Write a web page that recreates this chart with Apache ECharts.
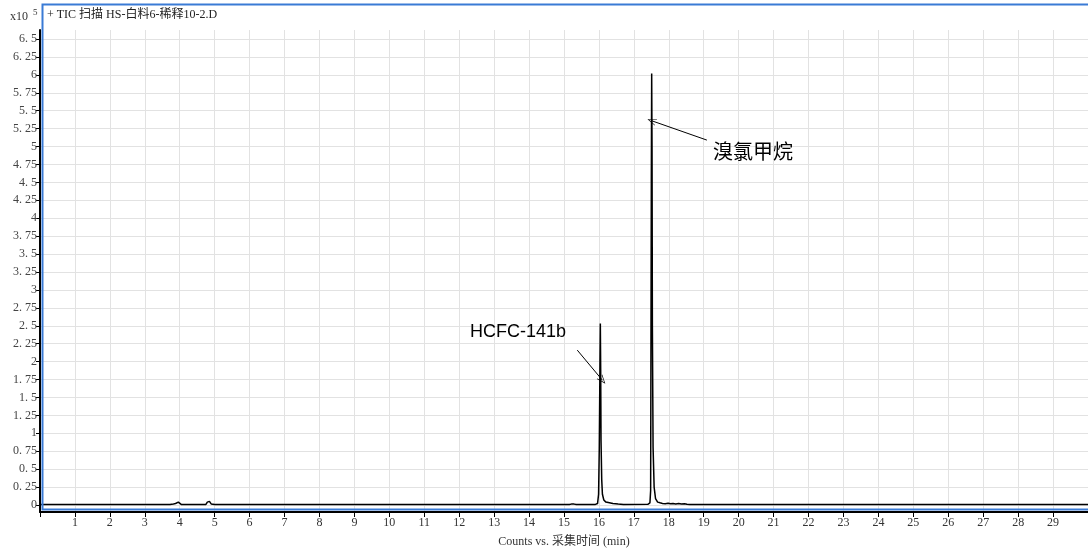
<!DOCTYPE html>
<html>
<head>
<meta charset="utf-8">
<script src="https://cdn.jsdelivr.net/npm/echarts@6/dist/echarts.min.js"></script>
<style>
html, body { margin: 0; padding: 0; background: #fff; }
#chart { width: 1088px; height: 549px; }
</style>
</head>
<body>
<div id="chart"></div>
<script>
'use strict';

var titleText = '+ TIC 扫描 HS-白料6-稀释10-2.D';
var xName = 'Counts vs. 采集时间 (min)';
var peakNames = ['HCFC-141b', '溴氯甲烷'];

// y tick values (x10^5 counts)
var yTicks = [0, 0.25, 0.5, 0.75, 1, 1.25, 1.5, 1.75, 2, 2.25, 2.5, 2.75, 3, 3.25,
    3.5, 3.75, 4, 4.25, 4.5, 4.75, 5, 5.25, 5.5, 5.75, 6, 6.25, 6.5];

// chromatogram (min, x10^5 counts)
var times = [0, 3.5, 3.72, 3.77, 3.82, 3.88, 3.93, 3.96, 4.0, 4.05,
    4.45, 4.5, 4.55, 4.75, 4.79, 4.82, 4.85, 4.9, 5.0,
    15.15, 15.21, 15.25, 15.29, 15.35,
    15.9, 15.96, 15.99, 16.01, 16.03, 16.04, 16.05, 16.06, 16.08, 16.1, 16.14, 16.2, 16.3, 16.4, 16.55, 16.7,
    17.4, 17.46, 17.48, 17.5, 17.51, 17.52, 17.53, 17.55, 17.58, 17.62, 17.68,
    17.75, 17.82, 17.9, 17.98, 18.05, 18.12, 18.2, 18.28, 18.36, 18.45, 18.52, 18.6, 30];
var counts = [0.006, 0.006, 0.008, 0.03, 0.015, 0.02, 0.03, 0.04, 0.02, 0.006,
    0.006, 0.016, 0.006, 0.008, 0.04, 0.065, 0.05, 0.015, 0.006,
    0.006, 0.012, 0.032, 0.012, 0.006,
    0.008, 0.02, 0.15, 0.8, 2.0, 2.53, 1.9, 0.9, 0.35, 0.15, 0.07, 0.04, 0.03, 0.02, 0.012, 0.008,
    0.01, 0.03, 0.2, 4.5, 6.02, 5.0, 2.5, 0.8, 0.25, 0.09, 0.04,
    0.03, 0.022, 0.018, 0.024, 0.016, 0.022, 0.015, 0.02, 0.014, 0.018, 0.01, 0.006, 0.006];

// arrow start / end points in data units
var arrows = [
    [[15.38, 2.16], [16.1, 1.74]],
    [[19.09, 5.09], [17.51, 5.36]]
];

var points = times.map(function (t, i) { return [t, counts[i]]; });
var arrowHead = 'path://M0,10 L5,0 L10,10 L9,10 L5,2 L1,10 Z';
var serif = 'Liberation Serif, Noto Sans CJK SC, serif';

var chart = echarts.init(document.getElementById('chart'));

chart.setOption({
    animation: false,
    grid: { left: 40, right: 0, top: 30, bottom: 37, containLabel: false, outerBoundsMode: 'none' },
    xAxis: {
        type: 'value',
        min: 0,
        max: 30,
        interval: 1,
        name: xName,
        nameLocation: 'middle',
        nameGap: 24,
        nameTextStyle: { color: '#333', fontFamily: serif, fontSize: 12 },
        axisLine: { show: true, onZero: false, lineStyle: { color: '#000', width: 2 } },
        axisTick: { show: true, length: 5, lineStyle: { color: '#000', width: 1 } },
        axisLabel: {
            color: '#333', fontFamily: serif, fontSize: 12, margin: 5,
            formatter: function (v) { return (v === 0 || v === 30) ? '' : String(v); }
        },
        splitLine: { show: true, lineStyle: { color: '#e2e2e2', width: 1 } }
    },
    yAxis: {
        type: 'value',
        min: -0.098,
        max: 6.626,
        axisLine: { show: true, onZero: false, lineStyle: { color: '#000', width: 2 } },
        axisTick: { show: true, length: 4, customValues: yTicks, lineStyle: { color: '#000', width: 1 } },
        axisLabel: {
            color: '#444', fontFamily: serif, fontSize: 12, margin: 3,
            customValues: yTicks,
            formatter: function (v) { return String(v).replace('.', '. '); }
        },
        splitLine: { show: true, customValues: yTicks, lineStyle: { color: '#e2e2e2', width: 1 } }
    },
    series: [{
        type: 'line',
        data: points,
        showSymbol: false,
        symbol: 'none',
        z: 5,
        lineStyle: { color: '#000', width: 1.5 },
        markLine: {
            silent: true,
            symbol: ['none', arrowHead],
            symbolSize: [7, 9],
            label: { show: false },
            lineStyle: { color: '#000', width: 1, type: 'solid' },
            data: arrows.map(function (a) {
                return [{ coord: a[0] }, { coord: a[1] }];
            })
        }
    }],
    graphic: [
        {
            type: 'rect', silent: true, z: 100,
            shape: { x: 42.5, y: 4.5, width: 1050, height: 505 },
            style: { fill: 'none', stroke: '#3a7bd5', lineWidth: 2 }
        },
        {
            type: 'text', left: 10, top: 11, z: 100,
            style: { text: 'x10', font: '12px ' + serif, fill: '#333' }
        },
        {
            type: 'text', left: 33, top: 8, z: 100,
            style: { text: '5', font: '9px ' + serif, fill: '#333' }
        },
        {
            type: 'text', left: 47, top: 9, z: 100,
            style: { text: titleText, font: '12px ' + serif, fill: '#222' }
        },
        {
            type: 'text', left: 470, top: 323, z: 100,
            style: { text: peakNames[0], font: '18px Liberation Sans, Arial, sans-serif', fill: '#000' }
        },
        {
            type: 'text', left: 713, top: 141, z: 100,
            style: { text: peakNames[1], font: '20px Noto Sans CJK SC, sans-serif', fill: '#000' }
        }
    ]
});
</script>
</body>
</html>
